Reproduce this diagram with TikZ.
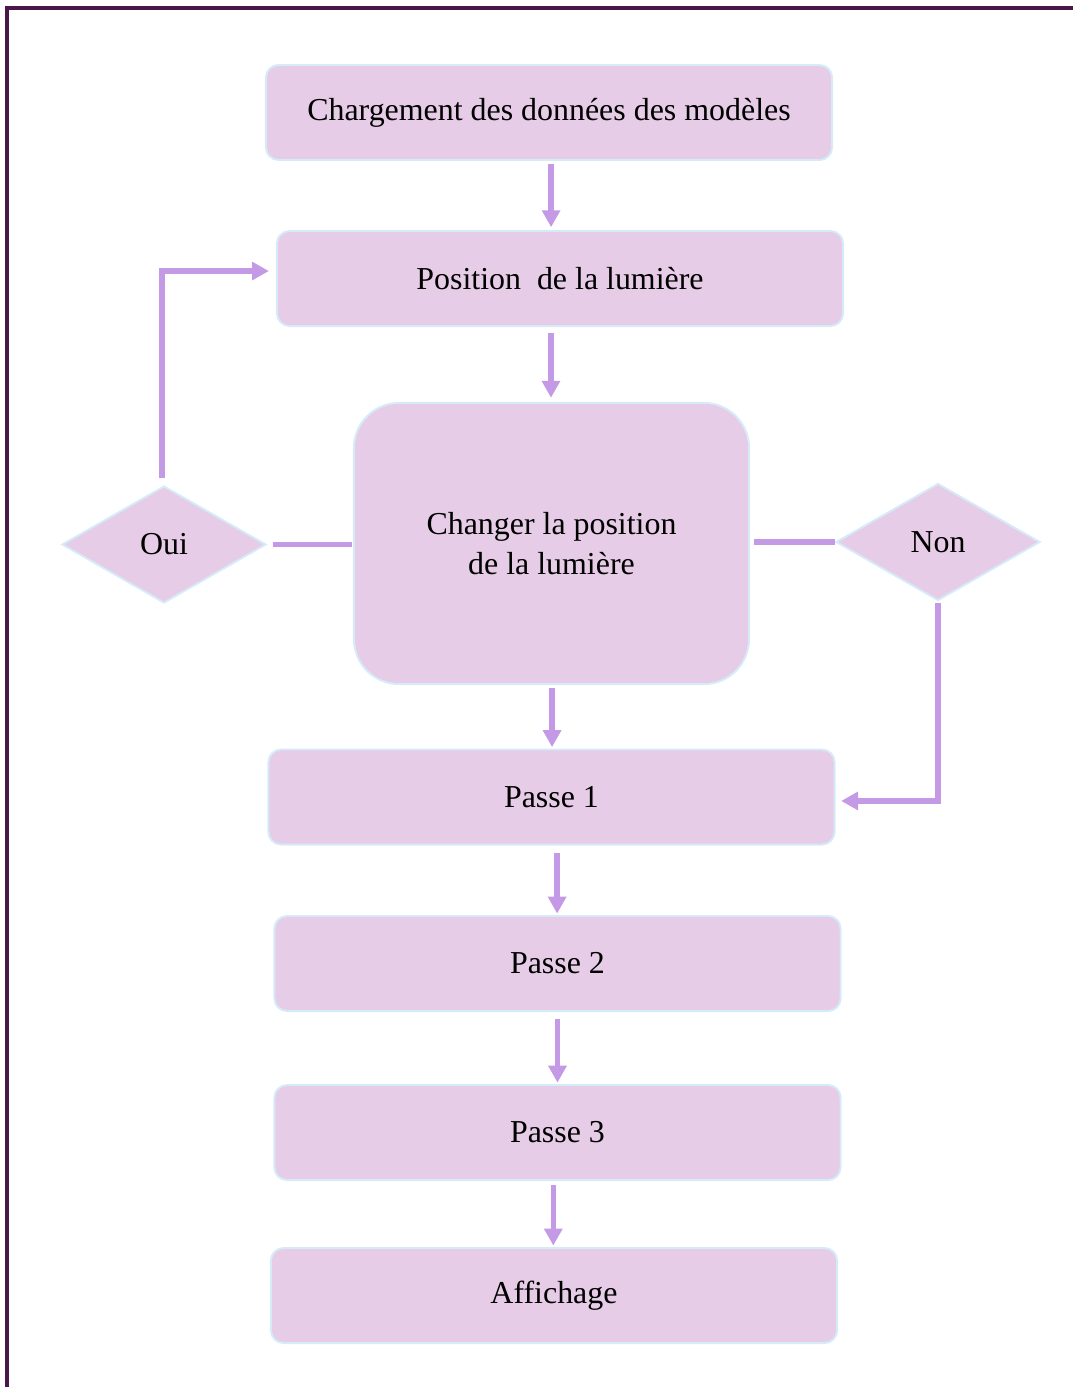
\documentclass[tikz,border=0pt]{standalone}
\usepackage{fontspec}
\setmainfont{Liberation Serif}
\usetikzlibrary{arrows.meta,shapes.geometric}
\definecolor{boxfill}{HTML}{E6CCE6}
\definecolor{boxline}{HTML}{D6EBF8}
\definecolor{flow}{HTML}{C49AE6}
\definecolor{frame}{HTML}{4A1748}

\begin{document}
\begin{tikzpicture}[x=0.025cm, y=-0.025cm,
		etape/.style={draw=boxline, fill=boxfill, line width=1.4pt, rounded corners=9pt,
			minimum width=14.15cm, minimum height=2.375cm, font=\fontsize{22.7}{28}\selectfont},
		choix/.style={draw=boxline, fill=boxfill, line width=1.4pt, diamond, inner sep=0pt,
			minimum width=5.1cm, minimum height=2.925cm, font=\fontsize{22.7}{28}\selectfont},
		fleche/.style={draw=flow, line width=3.8pt, -{Triangle[length=12pt, width=12.5pt]}},
		lien/.style={draw=flow, line width=3.8pt}]
			%%%%% START %%%%%
			
			\useasboundingbox (0, 0) rectangle (1073, 1387);
			\draw[line width=2.2pt, color=frame] (7, 1387) -- (7, 8) -- (1073, 8);
			
			\node[etape] (charge) at (549, 112.5) {Chargement des données des modèles};
			\node[etape] (pos) at (560, 278.5) {Position~ de la lumière};
			\node[etape, rounded corners=32pt, minimum width=9.875cm, minimum height=7.025cm,
				align=center] (changer) at (551.5, 543.5) {Changer la position\\de la lumière};
			\node[etape] (passe1) at (551.5, 797) {Passe 1};
			\node[etape] (passe2) at (557.5, 963.5) {Passe 2};
			\node[etape] (passe3) at (557.5, 1132.5) {Passe 3};
			\node[etape] (affiche) at (554, 1295.5) {Affichage};
			
			\node[choix] (oui) at (164, 544.5) {Oui};
			\node[choix] (non) at (938, 542) {Non};
			
			% suite des etapes
			\draw[fleche, shorten <=2pt, shorten >=2pt] ([xshift=1.5pt]charge.south) -- ([xshift=1.5pt]charge.south |- pos.north);
			\draw[fleche, shorten <=4pt, shorten >=3pt] ([xshift=-6.4pt]pos.south) -- ([xshift=-6.4pt]pos.south |- changer.north);
			\draw[fleche, shorten <=2pt, shorten >=1pt] ([xshift=0.4pt]changer.south) -- ([xshift=0.4pt]changer.south |- passe1.north);
			\draw[fleche, shorten <=5pt, shorten >=1pt] ([xshift=4pt]passe1.south) -- ([xshift=4pt]passe1.south |- passe2.north);
			\draw[fleche, shorten <=5pt, shorten >=1pt] (passe2.south) -- (passe2.south |- passe3.north);
			\draw[fleche, shorten <=3pt, shorten >=1pt] ([xshift=-3pt]passe3.south) -- ([xshift=-3pt]passe3.south |- affiche.north);
			
			% branches du choix
			\draw[lien, shorten <=4pt, shorten >=1pt] (oui.east) -- (oui.east -| changer.west);
			\draw[lien, shorten <=3pt] (changer.east |- non.west) -- (non.west);
			\draw[fleche, shorten <=5pt, shorten >=5pt] ([xshift=-1.4pt]oui.north) |- ([yshift=5.3pt]pos.west);
			\draw[fleche, shorten <=1pt, shorten >=4pt] (non.south) |- ([yshift=-2.8pt]passe1.east);
			
			%%%%% END %%%%%
		\end{tikzpicture}
\end{document}
